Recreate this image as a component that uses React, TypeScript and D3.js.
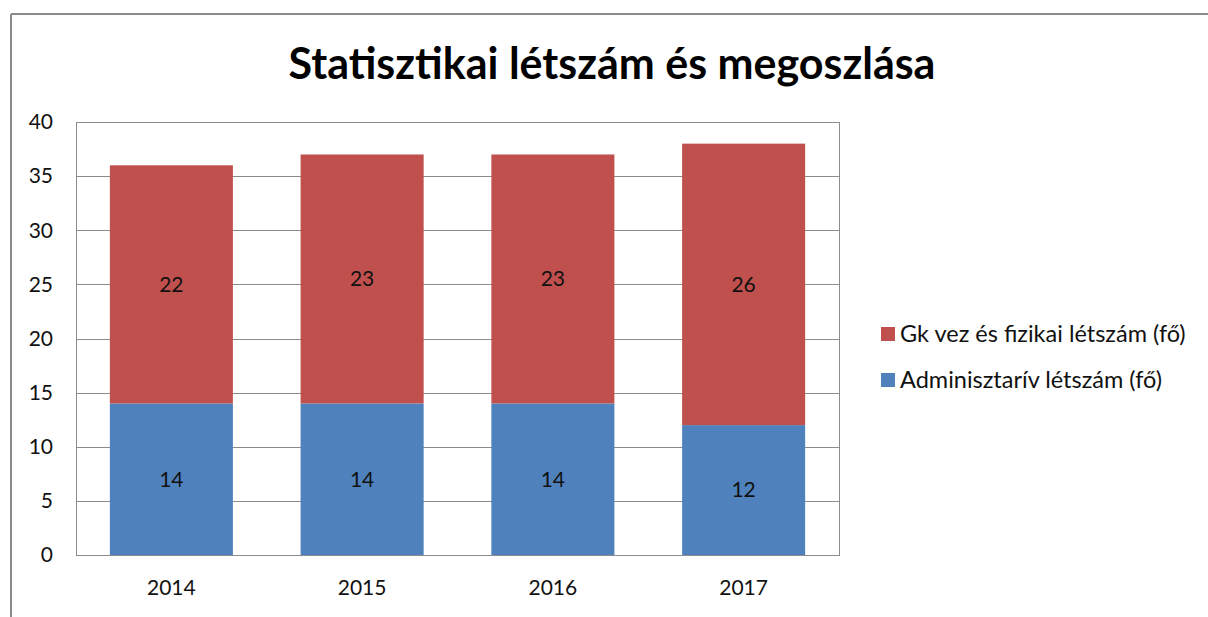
import React from "react";
import * as d3 from "d3";

const categories = ["2014", "2015", "2016", "2017"];
const adminValues = [14, 14, 14, 12];
const physicalValues = [22, 23, 23, 26];
const seriesNames = ["Gk vez és fizikai létszám (fő)", "Adminisztarív létszám (fő)"];
const yTicks = [0, 5, 10, 15, 20, 25, 30, 35, 40];
const title = "Statisztikai létszám és megoszlása";

const W = 1208;
const H = 617;
const plot = { left: 76, top: 122, right: 839, bottom: 555 };
const RED = "#C0504D";
const BLUE = "#4F81BD";
const FONT = "Lato, 'Open Sans', sans-serif";

export default function App() {
  const x = d3
    .scaleBand<string>()
    .domain(categories)
    .range([plot.left, plot.right])
    .paddingInner(0.355)
    .paddingOuter(0.1775);
  const y = d3.scaleLinear().domain([0, 40]).range([plot.bottom, plot.top]);

  const stackData = categories.map((c, i) => ({
    cat: c,
    admin: adminValues[i],
    phys: physicalValues[i],
  }));
  const stack = d3.stack<any>().keys(["admin", "phys"]);
  const series = stack(stackData);
  const colors: Record<string, string> = { admin: BLUE, phys: RED };

  return (
    <svg
      width={W}
      height={H}
      style={{ position: "absolute", left: 0, top: 0, background: "#fff" }}
    >
      <rect x={0} y={0} width={W} height={H} fill="#fff" />
      {/* outer frame */}
      <line x1={11} y1={14} x2={W} y2={14} stroke="#8a8a8a" strokeWidth={2} />
      <line x1={11} y1={14} x2={11} y2={H} stroke="#8a8a8a" strokeWidth={2} />

      <text
        x={612}
        y={79}
        textAnchor="middle"
        fontFamily={FONT}
        fontWeight="bold"
        fontSize={43}
        fill="#000"
      >
        {title}
      </text>

      {/* gridlines */}
      {yTicks.map((t) => (
        <line
          key={"g" + t}
          x1={plot.left}
          x2={plot.right}
          y1={Math.round(y(t)) + 0.5}
          y2={Math.round(y(t)) + 0.5}
          stroke="#8c8c8c"
          strokeWidth={1}
        />
      ))}
      <rect
        x={plot.left + 0.5}
        y={plot.top + 0.5}
        width={plot.right - plot.left}
        height={plot.bottom - plot.top}
        fill="none"
        stroke="#8c8c8c"
      />

      {/* bars */}
      {series.map((s) =>
        s.map((d, i) => (
          <rect
            key={s.key + i}
            x={x(categories[i])}
            y={y(d[1])}
            width={x.bandwidth()}
            height={y(d[0]) - y(d[1])}
            fill={colors[s.key]}
          />
        ))
      )}

      {/* data labels */}
      {series.map((s) =>
        s.map((d, i) => (
          <text
            key={"l" + s.key + i}
            x={(x(categories[i]) as number) + x.bandwidth() / 2}
            y={(y(d[0]) + y(d[1])) / 2}
            dy="0.35em"
            textAnchor="middle"
            fontFamily={FONT}
            fontSize={21}
            fill="#111"
          >
            {d[1] - d[0]}
          </text>
        ))
      )}

      {/* y tick labels */}
      {yTicks.map((t) => (
        <text
          key={"t" + t}
          x={53}
          y={y(t)}
          dy="0.35em"
          textAnchor="end"
          fontFamily={FONT}
          fontSize={21}
          fill="#111"
        >
          {t}
        </text>
      ))}

      {/* x labels */}
      {categories.map((c) => (
        <text
          key={"x" + c}
          x={(x(c) as number) + x.bandwidth() / 2}
          y={588}
          dy="0.35em"
          textAnchor="middle"
          fontFamily={FONT}
          fontSize={21}
          fill="#111"
        >
          {c}
        </text>
      ))}

      {/* legend */}
      {[RED, BLUE].map((col, i) => (
        <g key={"leg" + i} transform={`translate(881, ${327 + i * 46})`}>
          <rect x={0} y={0} width={14} height={14} fill={col} />
          <text
            x={19}
            y={7}
            dy="0.35em"
            fontFamily={FONT}
            fontSize={23.5}
            fill="#111"
          >
            {seriesNames[i]}
          </text>
        </g>
      ))}
    </svg>
  );
}
